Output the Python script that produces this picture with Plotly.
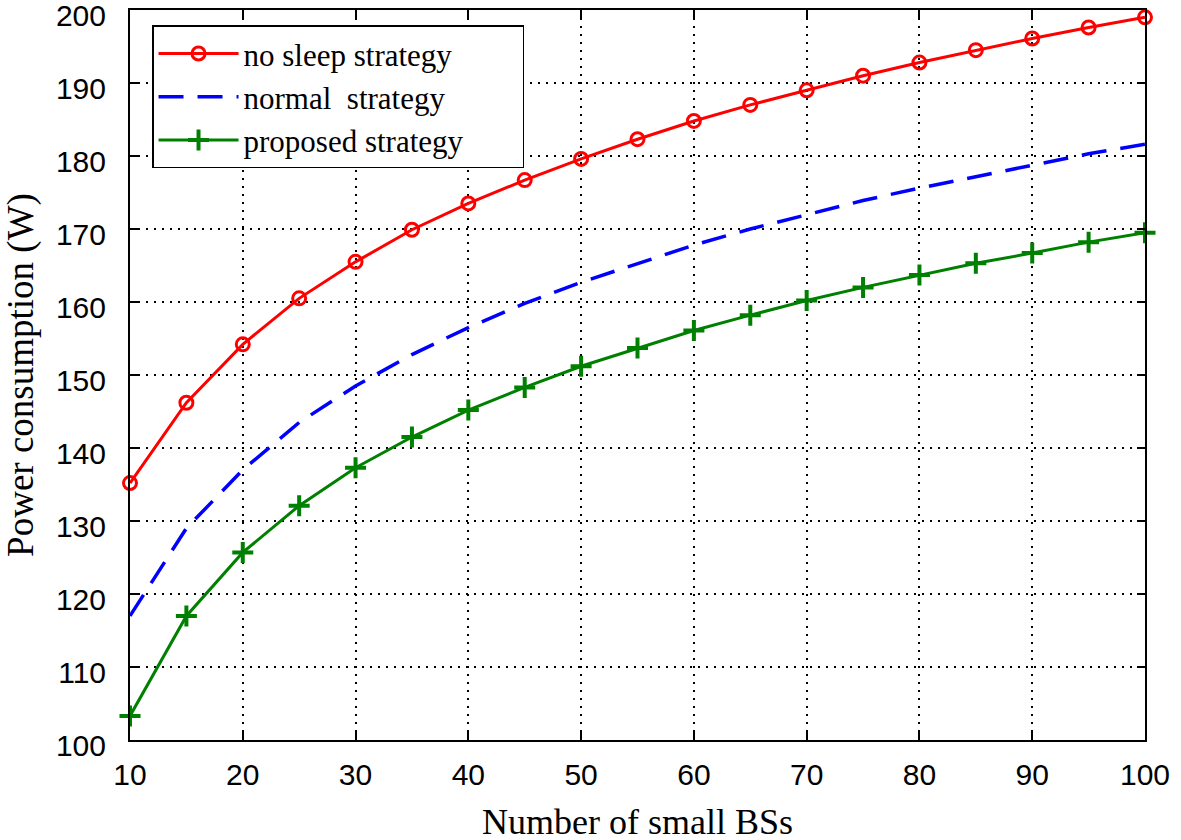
import plotly.graph_objects as go

x_vals = [10, 15, 20, 25, 30, 35, 40, 45, 50, 55, 60, 65, 70, 75, 80, 85, 90, 95, 100]
no_sleep = [135.2, 146.2, 154.2, 160.5, 165.5, 169.9, 173.5, 176.7, 179.6, 182.3, 184.8, 187.0, 189.0, 191.0, 192.8, 194.5, 196.1, 197.6, 199.0]
normal = [117.0, 129.0, 137.0, 143.5, 148.5, 152.8, 156.5, 159.8, 162.7, 165.3, 167.8, 170.0, 172.0, 173.9, 175.6, 177.2, 178.8, 180.3, 181.6]
proposed = [103.3, 117.0, 125.7, 132.1, 137.3, 141.5, 145.2, 148.3, 151.2, 153.7, 156.1, 158.2, 160.2, 162.0, 163.7, 165.3, 166.7, 168.2, 169.5]
names = ["no sleep strategy", "normal  strategy", "proposed strategy"]
x_ticks = [10, 20, 30, 40, 50, 60, 70, 80, 90, 100]
y_ticks = [100, 110, 120, 130, 140, 150, 160, 170, 180, 190, 200]
x_title = "Number of small BSs"
y_title = "Power consumption (W)"

SERIF = "Liberation Serif, Times New Roman, serif"
SANS = "Liberation Sans, Arial, sans-serif"
PAD = "\u00a0" * 7  # right padding inside the legend box

fig = go.Figure()
fig.add_trace(go.Scatter(x=x_vals, y=no_sleep, name=names[0] + PAD, mode="lines+markers", cliponaxis=False,
                         line=dict(color="#ff0000", width=3),
                         marker=dict(symbol="circle-open", size=13, color="#ff0000", line=dict(width=3))))
fig.add_trace(go.Scatter(x=x_vals, y=normal, name=names[1] + PAD, mode="lines", cliponaxis=False,
                         line=dict(color="#0000ff", width=3.5, dash="25px,14px")))
fig.add_trace(go.Scatter(x=x_vals, y=proposed, name=names[2] + PAD, mode="lines+markers", cliponaxis=False,
                         line=dict(color="#008000", width=3),
                         marker=dict(symbol="cross-thin-open", size=15, color="#008000", line=dict(width=4, color="#008000"))))

axis_common = dict(showline=True, linecolor="black", linewidth=2, mirror="ticks",
                   ticks="inside", ticklen=8, tickwidth=1.5, tickcolor="black",
                   showgrid=True, gridcolor="black", gridwidth=1.5, griddash="2px,6px",
                   zeroline=False, ticklabeloverflow="allow", automargin=False,
                   tickfont=dict(family=SANS, size=30, color="black"))

fig.update_xaxes(range=[10, 100], tickvals=x_ticks, ticktext=[str(v) for v in x_ticks],
                 ticklabelstandoff=7, **axis_common)
fig.update_yaxes(range=[100, 200], tickvals=y_ticks, ticktext=[str(v) for v in y_ticks],
                 ticklabelstandoff=16, ticklabelshift=5,
                 title=dict(text=y_title, font=dict(family=SERIF, size=37, color="black")),
                 **axis_common)

fig.add_annotation(text=x_title, xref="paper", yref="paper", x=0.5, y=-0.1125,
                   xanchor="center", yanchor="middle", showarrow=False,
                   font=dict(family=SERIF, size=36, color="black"))

fig.update_layout(
    width=1181, height=840,
    margin=dict(l=130, r=36, t=10, b=100, autoexpand=False),
    plot_bgcolor="white", paper_bgcolor="white",
    showlegend=True,
    legend=dict(x=0.0217, y=0.979, xanchor="left", yanchor="top",
                bgcolor="white", bordercolor="black", borderwidth=1.5,
                font=dict(family=SERIF, size=31, color="black"),
                itemwidth=80, tracegroupgap=0),
)

fig.write_html("out.html", config={"displayModeBar": False},
               post_script="document.body.style.margin='0';")
